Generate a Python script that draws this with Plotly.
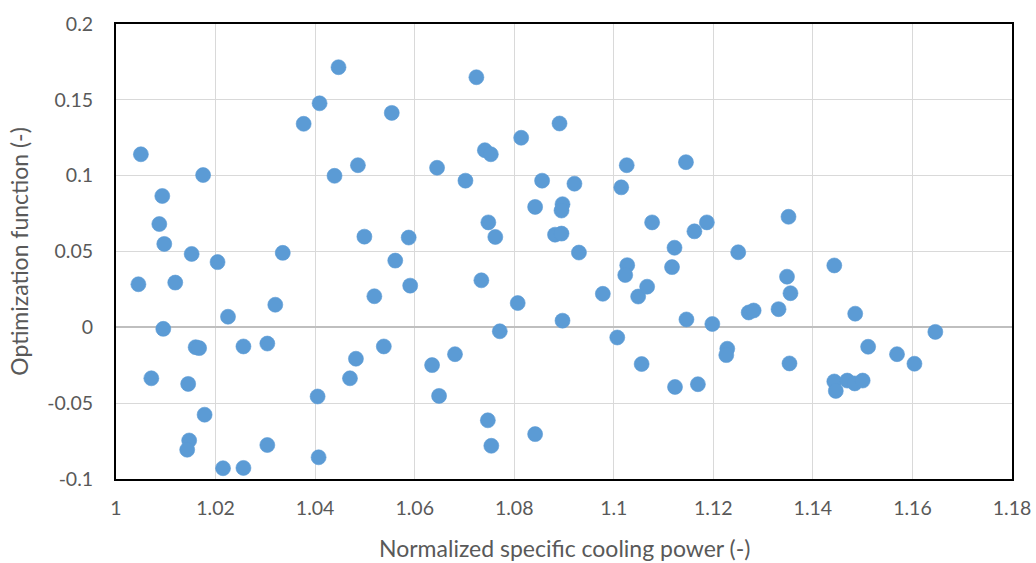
import plotly.graph_objects as go

cooling_power = [
    1.0050, 1.0045, 1.0093, 1.0087, 1.0097, 1.0119, 1.0095, 1.0071, 1.0145, 1.0152,
    1.0160, 1.0167, 1.0175, 1.0178, 1.0147, 1.0143, 1.0204, 1.0225, 1.0215, 1.0256,
    1.0256, 1.0304, 1.0304, 1.0320, 1.0335, 1.0377, 1.0409, 1.0447, 1.0439, 1.0405,
    1.0407, 1.0486, 1.0499, 1.0482, 1.0470, 1.0519, 1.0538, 1.0554, 1.0561, 1.0588,
    1.0591, 1.0635, 1.0645, 1.0649, 1.0681, 1.0702, 1.0724, 1.0734, 1.0741, 1.0753,
    1.0748, 1.0747, 1.0754, 1.0762, 1.0771, 1.0807, 1.0814, 1.0842, 1.0842, 1.0856,
    1.0882, 1.0891, 1.0897, 1.0895, 1.0895, 1.0897, 1.0921, 1.0930, 1.0978, 1.1007,
    1.1015, 1.1026, 1.1027, 1.1023, 1.1049, 1.1056, 1.1067, 1.1077, 1.1117, 1.1122,
    1.1123, 1.1145, 1.1146, 1.1169, 1.1162, 1.1187, 1.1198, 1.1228, 1.1226, 1.1250,
    1.1271, 1.1281, 1.1331, 1.1351, 1.1348, 1.1355, 1.1353, 1.1443, 1.1443, 1.1446,
    1.1469, 1.1484, 1.1485, 1.1500, 1.1511, 1.1569, 1.1604, 1.1646,
]

optimization = [
    0.1141, 0.0284, 0.0866, 0.0681, 0.0550, 0.0295, -0.0010, -0.0336, -0.0373, 0.0484,
    -0.0131, -0.0137, 0.1004, -0.0576, -0.0746, -0.0807, 0.0430, 0.0070, -0.0929, -0.0927,
    -0.0126, -0.0107, -0.0776, 0.0149, 0.0491, 0.1342, 0.1477, 0.1715, 0.0999, -0.0456,
    -0.0857, 0.1069, 0.0598, -0.0207, -0.0336, 0.0205, -0.0126, 0.1414, 0.0440, 0.0592,
    0.0275, -0.0249, 0.1052, -0.0452, -0.0177, 0.0967, 0.1649, 0.0310, 0.1168, 0.1141,
    0.0692, -0.0613, -0.0781, 0.0596, -0.0026, 0.0160, 0.1250, 0.0794, -0.0704, 0.0967,
    0.0611, 0.1344, 0.0812, 0.0770, 0.0618, 0.0044, 0.0947, 0.0493, 0.0221, -0.0067,
    0.0923, 0.1069, 0.0410, 0.0345, 0.0203, -0.0242, 0.0268, 0.0692, 0.0397, 0.0525,
    -0.0393, 0.1089, 0.0052, -0.0375, 0.0633, 0.0692, 0.0022, -0.0141, -0.0183, 0.0495,
    0.0098, 0.0111, 0.0120, 0.0729, 0.0334, 0.0225, -0.0238, 0.0408, -0.0357, -0.0419,
    -0.0351, -0.0370, 0.0090, -0.0351, -0.0128, -0.0177, -0.0240, -0.0030,
]

x_ticks = [1.00, 1.02, 1.04, 1.06, 1.08, 1.10, 1.12, 1.14, 1.16, 1.18]
x_tick_labels = ["1", "1.02", "1.04", "1.06", "1.08", "1.1", "1.12", "1.14", "1.16", "1.18"]
y_ticks = [-0.1, -0.05, 0, 0.05, 0.1, 0.15, 0.2]
y_tick_labels = ["-0.1", "-0.05", "0", "0.05", "0.1", "0.15", "0.2"]

FONT = "Lato, 'Open Sans', sans-serif"
TXT = "#595959"

fig = go.Figure()
fig.add_trace(go.Scatter(
    x=cooling_power, y=optimization, mode="markers",
    marker=dict(size=15, color="#5B9BD5", line=dict(width=0.6, color="#5B9BD5")),
    showlegend=False, hoverinfo="x+y",
))

fig.update_layout(
    width=1036, height=563,
    margin=dict(l=116, r=24, t=21, b=84),
    paper_bgcolor="white", plot_bgcolor="white",
    font=dict(family=FONT, size=19.5, color=TXT),
    annotations=[dict(
        text="Normalized specific cooling power (-)", xref="paper", yref="paper",
        x=0.5, y=-0.151, xanchor="center", yanchor="middle", showarrow=False,
        font=dict(size=23, color=TXT),
    )],
)
fig.update_xaxes(
    range=[1.0, 1.18], tickmode="array", tickvals=x_ticks, ticktext=x_tick_labels,
    showgrid=True, gridcolor="#D9D9D9", gridwidth=1.3,
    zeroline=False, showline=True, linecolor="black", linewidth=2, mirror=True,
    ticks="", ticklabelstandoff=11, automargin=False,
)
fig.update_yaxes(
    range=[-0.1, 0.2], tickmode="array", tickvals=y_ticks, ticktext=y_tick_labels,
    showgrid=True, gridcolor="#D9D9D9", gridwidth=1.3,
    zeroline=True, zerolinecolor="#BFBFBF", zerolinewidth=1.6,
    showline=True, linecolor="black", linewidth=2, mirror=True,
    ticks="", ticklabelstandoff=17,
    title=dict(text="Optimization function (-)", font=dict(size=23, color=TXT), standoff=12),
)

fig.write_html("out.html")
